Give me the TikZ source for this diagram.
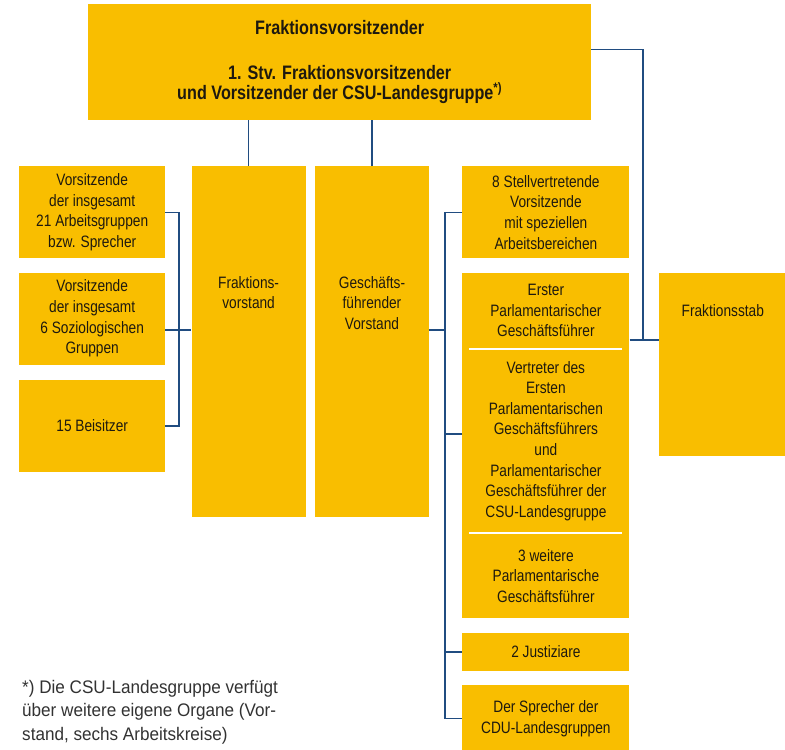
\documentclass[tikz,border=0pt]{standalone}
\usepackage{fontspec}
\setmainfont{Liberation Sans}[FakeStretch=0.83]
\newfontfamily\notefont{Liberation Sans}[FakeStretch=0.94]
\usepackage{tikz}
\usetikzlibrary{positioning,calc}
\definecolor{boxgold}{RGB}{249,190,0}
\definecolor{linkblue}{RGB}{32,76,128}
\definecolor{inktext}{RGB}{30,25,15}
\definecolor{notegray}{RGB}{50,50,50}
\tikzset{link/.style={linkblue,line width=1.4pt},
 divider/.style={white,line width=2.5pt}}

\begin{document}
\begin{tikzpicture}[x=1pt,y=1pt,
 box/.style={fill=boxgold,text=inktext,align=center,inner sep=0pt,
  font=\fontsize{16.5}{20.6}\selectfont},
 boxtext/.style={anchor=north,inner sep=0pt,align=center,text=inktext,
  font=\fontsize{16.5}{20.6}\selectfont}]
\useasboundingbox (0,0) rectangle (785,-750);

\node[box,anchor=north west,minimum width=503pt,minimum height=116pt,
 font=\bfseries\fontsize{19.5}{20.5}\selectfont] (TOP) at (88,-4)
 {Fraktionsvorsitzender\\[24.5pt]1. Stv. Fraktionsvorsitzender\\
 und Vorsitzender der CSU-Landesgruppe\textsuperscript{*)}};

\node[box,anchor=north west,minimum width=146pt,minimum height=92pt] (LA) at (19,-166)
 {Vorsitzende\\der insgesamt\\21 Arbeitsgruppen\\bzw. Sprecher};
\node[box,below=14pt of LA,minimum width=146pt,minimum height=92pt] (LB)
 {Vorsitzende\\der insgesamt\\6 Soziologischen\\Gruppen};
\node[box,below=15pt of LB,minimum width=146pt,minimum height=92pt] (LC) {15 Beisitzer};

\node[box,right=26pt of LA.north east,anchor=north west,minimum width=114pt,minimum height=351pt,
 label={[boxtext,yshift=-110pt]north:Fraktions-\\vorstand}] (FV) {};
\node[box,right=9pt of FV,minimum width=114pt,minimum height=351pt,
 label={[boxtext,yshift=-110pt]north:Geschäfts-\\führender\\Vorstand}] (GV) {};

\node[box,right=33pt of GV.north east,anchor=north west,minimum width=167pt,minimum height=92pt] (SV)
 {8 Stellvertretende\\Vorsitzende\\mit speziellen\\Arbeitsbereichen};
\node[box,below=14pt of SV,minimum width=167pt,minimum height=76pt] (PG1)
 {Erster\\Parlamentarischer\\Geschäftsführer};
\node[box,below=0pt of PG1,minimum width=167pt,minimum height=184pt] (PG2)
 {Vertreter des\\Ersten\\Parlamentarischen\\Geschäftsführers\\und\\Parlamentarischer\\Geschäftsführer der\\CSU-Landesgruppe};
\node[box,below=0pt of PG2,minimum width=167pt,minimum height=85pt] (PG3)
 {3 weitere\\Parlamentarische\\Geschäftsführer};
\node[box,below=14pt of PG3,minimum width=167pt,minimum height=38pt] (JU) {2 Justiziare};
\node[box,below=14pt of JU,minimum width=167pt,minimum height=67pt] (SP)
 {Der Sprecher der\\CDU-Landesgruppen};

\node[box,right=29pt of PG1.north east,anchor=north west,minimum width=128pt,minimum height=183pt,
 label={[boxtext,yshift=-32pt]north:Fraktionsstab}] (FS) {};

\node[anchor=north west,inner sep=0pt,align=left,text=notegray,
 font=\notefont\fontsize{18.2}{23.5}\selectfont] (NOTE) at (22,-680)
 {*) Die CSU-Landesgruppe verfügt\\über weitere eigene Organe (Vor-\\stand, sechs Arbeitskreise)};

\coordinate (BL) at (179,-330);
\coordinate (BR) at (445,-330);
\coordinate (RJ) at (643,-340);

\draw[link] (FV.north) -- (FV.north |- TOP.south);
\draw[link] (GV.north) -- (GV.north |- TOP.south);
\draw[link] ([yshift=13pt]TOP.east) -| (RJ);
\draw[link] (PG1.east |- RJ) -- (FS.west |- RJ);
\draw[link] (LA.east) -| (BL) |- (LC.east);
\draw[link] (LB.east |- BL) -- (FV.west |- BL);
\draw[link] (SV.west) -| (BR) |- (SP.west);
\draw[link] (GV.east |- BR) -- (BR);
\draw[link] ([yshift=7pt]PG2.west) -- ([yshift=7pt]PG2.west -| BR);
\draw[link] (JU.west) -- (JU.west -| BR);

\draw[divider] ([xshift=7pt]PG1.south west) -- ([xshift=-8pt]PG1.south east);
\draw[divider] ([xshift=7pt]PG2.south west) -- ([xshift=-8pt]PG2.south east);
\end{tikzpicture}
\end{document}
